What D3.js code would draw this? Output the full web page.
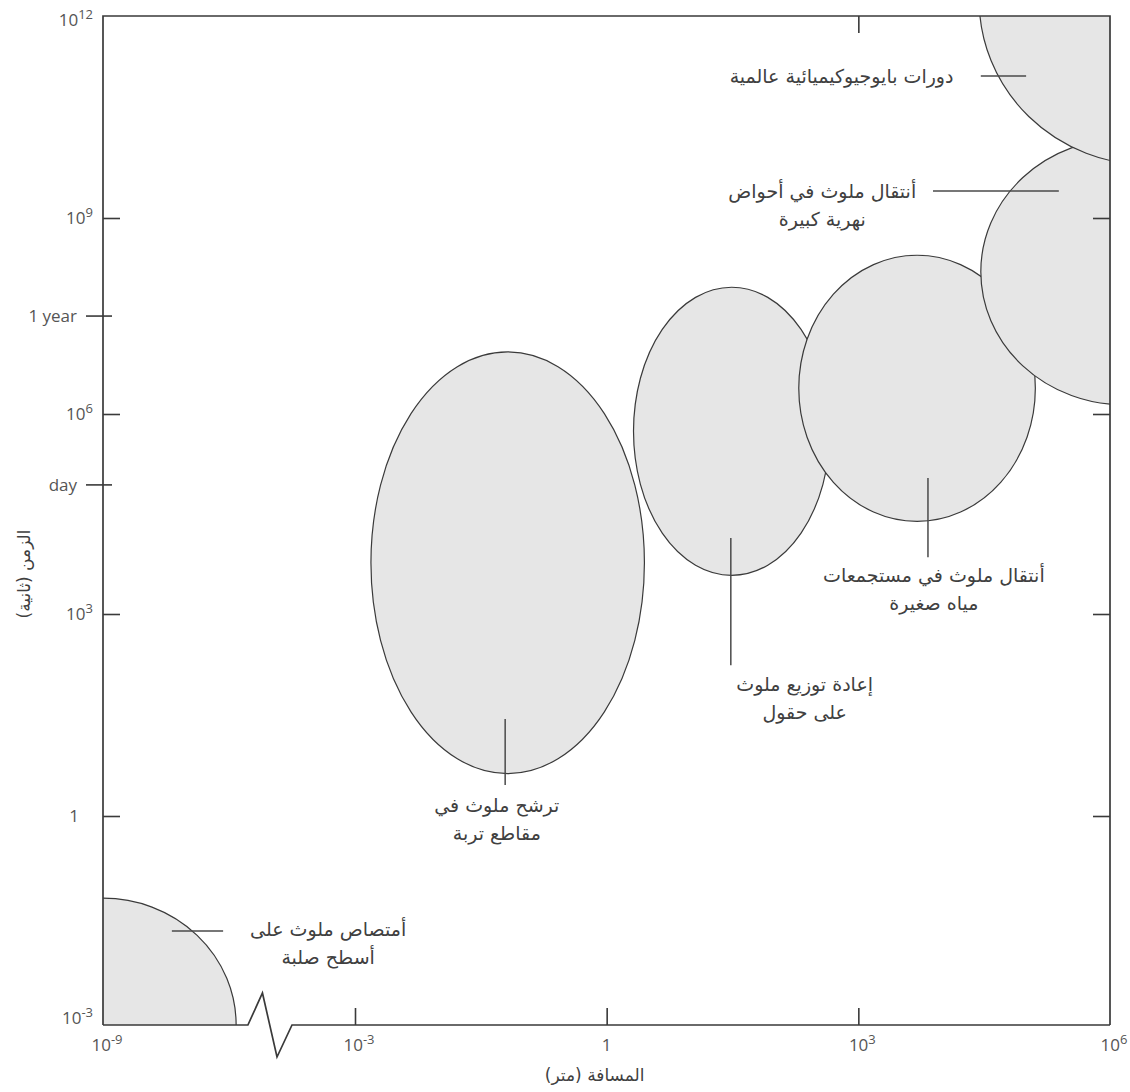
<!DOCTYPE html>
<html>
<head>
<meta charset="utf-8">
<script src="https://cdn.jsdelivr.net/npm/d3@7"></script>
<style>
  body { margin: 0; background: #fff; }
  .tick-label { font-family: "Open Sans", "DejaVu Sans", sans-serif; font-size: 17px; fill: #555; }
  .ar { font-family: "DejaVu Sans", sans-serif; font-size: 19px; fill: #404040; direction: rtl; unicode-bidi: embed; }
</style>
</head>
<body>
<svg id="chart" width="1130" height="1092"></svg>
<script>
// Process regimes, sized by the distance (log10 m) and time (log10 s) they span
const regimes = [
  "أمتصاص ملوث على أسطح صلبة",
  "ترشح ملوث في مقاطع تربة",
  "إعادة توزيع ملوث على حقول",
  "أنتقال ملوث في مستجمعات مياه صغيرة",
  "أنتقال ملوث في أحواض نهرية كبيرة",
  "دورات بايوجيوكيميائية عالمية"
];
const distCenter     = [-9, -1.18, 1.49, 3.70, 6.17, 6.46];
const distHalfWidth  = [3.17, 1.63, 1.17, 1.41, 1.71, 2.02];
const timeCenter     = [-3, 3.79, 5.76, 6.41, 8.16, 12.24];
const timeHalfHeight = [1.82, 3.16, 2.18, 2.02, 2.02, 2.45];

// Label text (two lines each) and where each label and its leader sit, in log10 units
const labelLines = [
  ["أمتصاص ملوث على", "أسطح صلبة"],
  ["ترشح ملوث في", "مقاطع تربة"],
  ["إعادة توزيع ملوث", "على حقول"],
  ["أنتقال ملوث في مستجمعات", "مياه صغيرة"],
  ["أنتقال ملوث في أحواض", "نهرية كبيرة"],
  ["دورات بايوجيوكيميائية عالمية"]
];
const leaderFrom = [[-7.36, -1.65], [-1.21, 1.44], [1.48, 4.14], [3.83, 5.04], [3.89, 9.40], [4.46, 11.11]];
const leaderTo   = [[-6.14, -1.65], [-1.21, 0.46], [1.48, 2.24], [3.83, 3.85], [5.39, 9.40], [5.00, 11.11]];
const labelAt    = [[-3.64, -1.62], [-1.31, 0.16], [2.36, 1.95], [3.90, 3.58], [2.57, 9.40], [2.80, 11.11]];

// Axis ticks
const xTickExp = [-9, -3, 0, 3, 6];
const yTickExp = [-3, 0, 3, 6, 9, 12];
const namedTickLabels  = ["day", "1 year"];
const namedTickSeconds = [86400, 31557600];
const xTitle = "المسافة (متر)";
const yTitle = "الزمن (ثانية)";

(function draw() {
  const svg = d3.select("#chart");

  // Distance axis is broken between 1e-9 and 1e-3, so it is piecewise in log10 space
  const x = d3.scaleLinear().domain([-9, -3, 6]).range([103, 355, 1110]);
  const y = d3.scaleLinear().domain(yTickExp).range([1025, 816, 614, 414, 218, 16]);

  const plotL = x(-9), plotR = x(6), plotT = y(12), plotB = y(-3);

  svg.append("clipPath").attr("id", "plot-clip")
    .append("rect").attr("x", plotL).attr("y", plotT)
    .attr("width", plotR - plotL).attr("height", plotB - plotT);

  // Regime ellipses
  const regions = regimes.map((name, i) => {
    const x1 = x(distCenter[i] - distHalfWidth[i]), x2 = x(distCenter[i] + distHalfWidth[i]);
    const y1 = y(timeCenter[i] + timeHalfHeight[i]), y2 = y(timeCenter[i] - timeHalfHeight[i]);
    return { name, cx: (x1 + x2) / 2, cy: (y1 + y2) / 2, rx: (x2 - x1) / 2, ry: (y2 - y1) / 2 };
  });

  svg.append("g").attr("clip-path", "url(#plot-clip)")
    .selectAll("ellipse").data(regions).join("ellipse")
    .attr("cx", d => d.cx).attr("cy", d => d.cy)
    .attr("rx", d => d.rx).attr("ry", d => d.ry)
    .attr("fill", "#e6e6e6").attr("stroke", "#3a3a3a").attr("stroke-width", 1.2);

  // Leader lines
  svg.append("g").selectAll("line").data(regimes).join("line")
    .attr("x1", (d, i) => x(leaderFrom[i][0])).attr("y1", (d, i) => y(leaderFrom[i][1]))
    .attr("x2", (d, i) => x(leaderTo[i][0])).attr("y2", (d, i) => y(leaderTo[i][1]))
    .attr("stroke", "#4a4a4a").attr("stroke-width", 1.5);

  // Regime labels
  const lineGap = 28;
  const lab = svg.append("g").selectAll("text").data(regimes).join("text")
    .attr("class", "ar").attr("text-anchor", "middle")
    .attr("transform", (d, i) => `translate(${x(labelAt[i][0])},${y(labelAt[i][1])})`);
  lab.selectAll("tspan").data((d, i) => labelLines[i]).join("tspan")
    .attr("x", 0).attr("y", (d, j) => j * lineGap).attr("dy", "0.35em")
    .text(d => d);

  // Frame: left, top, right edges and a bottom edge with the axis-break zigzag
  const frame = svg.append("g").attr("fill", "none").attr("stroke", "#3a3a3a").attr("stroke-width", 1.7);
  const breakA = x(-5.55), breakB = x(-4.5), amp = 32;
  const bottomPath = d3.path();
  bottomPath.moveTo(plotL, plotB);
  bottomPath.lineTo(breakA, plotB);
  bottomPath.lineTo(breakA + (breakB - breakA) * 0.33, plotB - amp);
  bottomPath.lineTo(breakA + (breakB - breakA) * 0.66, plotB + amp);
  bottomPath.lineTo(breakB, plotB);
  bottomPath.lineTo(plotR, plotB);
  frame.append("path").attr("d", bottomPath.toString());
  frame.append("path").attr("d", `M${plotL},${plotB}V${plotT}H${plotR}V${plotB}`);

  // Inward ticks via d3 axes
  const tickLen = 17;
  function styleAxis(g) {
    g.select(".domain").remove();
    g.selectAll(".tick line").attr("stroke", "#3a3a3a").attr("stroke-width", 1.6);
    g.selectAll(".tick text").remove();
  }
  svg.append("g").attr("transform", `translate(0,${plotB})`)
    .call(d3.axisBottom(x).tickValues([-3, 0, 3]).tickSize(-tickLen)).call(styleAxis);
  svg.append("g").attr("transform", `translate(0,${plotT})`)
    .call(d3.axisTop(x).tickValues([3]).tickSize(-tickLen)).call(styleAxis);
  svg.append("g").attr("transform", `translate(${plotL},0)`)
    .call(d3.axisLeft(y).tickValues([0, 3, 6, 9]).tickSize(-tickLen)).call(styleAxis);
  svg.append("g").attr("transform", `translate(${plotR},0)`)
    .call(d3.axisRight(y).tickValues([0, 3, 6, 9]).tickSize(-tickLen)).call(styleAxis);

  // Named time ticks cross the left axis
  const named = svg.append("g").selectAll("g").data(namedTickLabels).join("g")
    .attr("transform", (d, i) => `translate(${plotL},${y(Math.log10(namedTickSeconds[i]))})`);
  named.append("line").attr("x1", -17).attr("x2", 9)
    .attr("stroke", "#3a3a3a").attr("stroke-width", 1.6);
  named.append("text").attr("class", "tick-label").attr("x", -26).attr("dy", "0.35em")
    .attr("text-anchor", "end").text(d => d);

  // Power-of-ten labels
  function powerLabel(sel, e) {
    if (e === 0) { sel.text("1"); return; }
    sel.append("tspan").text("10");
    sel.append("tspan").attr("dy", -7).attr("font-size", 13).text(e);
  }
  svg.append("g").selectAll("text").data(yTickExp).join("text")
    .attr("class", "tick-label").attr("text-anchor", "end")
    .attr("x", d => d === 0 ? plotL - 24 : plotL - 10)
    .attr("y", d => y(d) + (d === -3 ? -7 : 0) + (d === 12 ? 4 : 0))
    .attr("dy", "0.35em")
    .each(function (d) { powerLabel(d3.select(this), d); });

  svg.append("g").selectAll("text").data(xTickExp).join("text")
    .attr("class", "tick-label").attr("text-anchor", "middle")
    .attr("x", d => x(d) + (d === 0 ? 0 : 4))
    .attr("y", plotB + 20).attr("dy", "0.35em")
    .each(function (d) { powerLabel(d3.select(this), d); });

  // Axis titles
  svg.append("text").attr("class", "ar").attr("text-anchor", "middle")
    .attr("x", x(0) - 12).attr("y", 1075).attr("dy", "0.35em")
    .style("font-size", "17px").text(xTitle);
  svg.append("text").attr("class", "ar").attr("text-anchor", "middle")
    .attr("transform", `translate(24,${y(3.6)}) rotate(-90)`).attr("dy", "0.35em")
    .style("font-size", "17px").text(yTitle);
})();
</script>
</body>
</html>
